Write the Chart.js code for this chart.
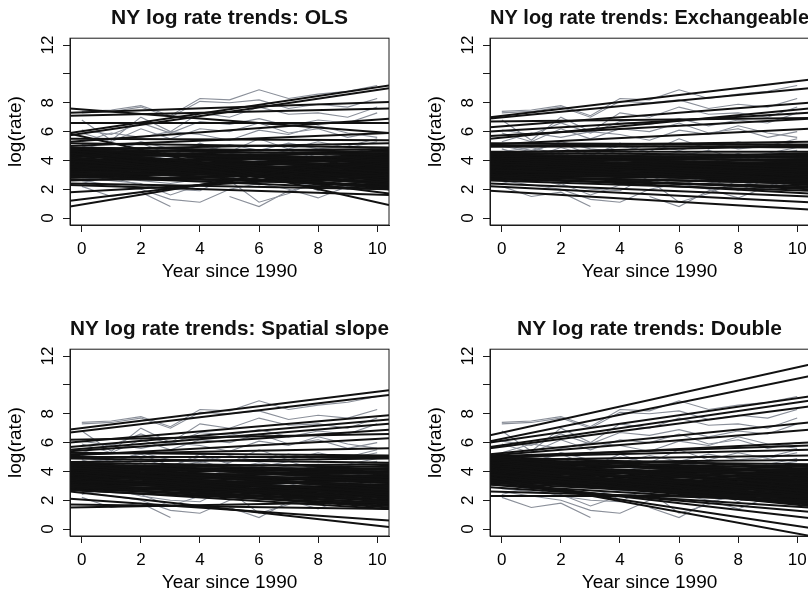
<!DOCTYPE html>
<html lang="en">
<head>
<meta charset="UTF-8">
<title>NY log rate trends</title>
<script src="https://cdn.jsdelivr.net/npm/chart.js"></script>
<style>
  body { margin: 0; width: 808px; height: 599px; overflow: hidden; background: #fff; position: relative; }
  .panel { position: absolute; width: 420px; height: 311px; }
</style>
</head>
<body>
<div class="panel" style="left:0;top:0"><canvas id="ols"></canvas></div>
<div class="panel" style="left:420px;top:0"><canvas id="exch"></canvas></div>
<div class="panel" style="left:0;top:311px"><canvas id="spatial"></canvas></div>
<div class="panel" style="left:420px;top:311px"><canvas id="double"></canvas></div>

<script>
// axes
const years = [0, 1, 2, 3, 4, 5, 6, 7, 8, 9, 10];
const xEdges = [-0.4, 10.4];
const xTicks = [0, 2, 4, 6, 8, 10];
const xTickLabels = ['0', '2', '4', '6', '8', '10'];
const yTicks = [0, 2, 4, 6, 8, 10, 12];
const yTickLabels = ['0', '2', '4', '6', '8', '', '12'];

// observed county log rates (grey), one row per county, null = missing year
const greyRates = [
  [7.4, 7.5, 7.8, 7.1, 8.3, 8.2, 8.9, 8.3, 8.6, 8.8, 9.2],
  [7.3, 7.4, 7.7, 7.0, 8.1, 8.0, 8.2, 7.6, 7.9, 7.7, 8.3],
  [6.8, 5.4, 7.0, 6.0, 7.3, 7.0, 7.7, 7.2, 7.3, 7.0, 7.7],
  [6.1, 5.8, 6.6, 5.9, 6.7, 6.5, 6.9, 6.4, 6.8, 6.6, 7.3],
  [5.9, 5.3, 6.2, 5.5, 6.2, 6.0, 6.6, 5.9, 6.2, 5.6, 6.0],
  [5.3, 5.9, 5.6, 6.0, 5.8, 5.4, 6.1, 5.8, 6.4, 5.9, 5.6],
  [5.1, 4.7, 5.2, 4.4, 5.0, 4.6, 5.5, 4.8, 5.3, 4.9, 5.3],
  [4.8, 4.2, 4.9, 4.3, 5.2, 4.5, 4.3, 4.7, 4.1, 4.5, 4.9],
  [4.3, 3.9, 4.6, 3.7, 4.4, 4.0, 4.2, 3.8, 4.5, 3.9, 4.1],
  [3.6, 4.1, 3.3, 3.9, 3.5, 3.2, 3.8, 3.4, 3.1, 3.6, 3.3],
  [3.9, 3.5, 3.7, 3.2, 3.6, 4.1, 3.3, 3.0, 3.6, 3.2, 3.8],
  [3.2, 3.0, 3.6, 2.9, 3.1, 3.4, 2.8, 3.3, 2.9, 2.6, 3.0],
  [4.6, 4.9, 4.4, 4.1, 4.7, 4.2, 4.6, 4.3, 4.0, 4.4, 4.7],
  [5.0, 4.6, 5.3, 4.8, 4.6, 5.1, 4.7, 5.2, 4.8, 5.0, 5.5],
  [4.0, 4.4, 3.8, 4.2, 3.9, 3.6, 4.0, 3.7, 3.5, 3.9, 3.6],
  [3.4, 3.2, 3.0, 3.5, 2.8, 3.1, 3.4, 2.7, 3.2, 3.0, 2.8],
  [2.2, 1.5, 1.8, 0.8, null, null, null, null, null, null, null],
  [2.6, 2.3, 2.0, 1.3, 1.1, 2.0, 2.4, 2.0, 1.4, 2.2, 3.0],
  [null, null, null, null, null, 1.5, 0.8, 1.9, 2.3, 2.0, 2.6],
  [2.8, 2.6, 2.4, 1.6, 2.3, 2.6, 1.1, 1.7, 2.6, 2.1, 2.9],
  [3.1, 2.8, 2.3, 2.0, 1.9, 2.9, 2.3, 2.8, 1.9, 2.7, 3.3],
  [2.4, 2.9, 2.6, 2.4, 2.7, 2.4, 2.9, 2.5, 2.2, 2.8, 3.6]
];

// fitted trend lines (black): value at left plot edge and at right plot edge
const olsLeft = [7.6, 7.3, 7.1, 6.6, 5.9, 5.75, 5.5, 5.85, 5.3, 5.0, 5.2, 0.8, 1.2, 1.8, 2.3, 2.4, 4.5, 4.2,
  4.9, 4.85, 4.8, 4.7, 4.65, 4.6, 4.5, 4.45, 4.4, 4.3, 4.25, 4.2, 4.1, 4.05, 4.0, 3.95, 3.9, 3.85,
  3.8, 3.75, 3.7, 3.65, 3.6, 3.55, 3.5, 3.45, 3.4, 3.35, 3.3, 3.2, 3.1, 3.0, 2.9, 2.8, 2.7, 2.6,
  4.75, 4.35, 3.9, 3.25, 3.0, 4.15, 3.7, 2.95,
  4.55, 4.1, 3.8, 3.5, 3.25, 3.05, 4.7, 4.35, 3.95, 3.6, 3.15, 2.85, 4.45, 4.0, 3.7, 3.4];
const olsRight = [5.9, 8.05, 7.6, 6.6, 9.2, 9.0, 5.4, 0.9, 6.9, 5.9, 4.9, 4.5, 3.9, 3.0, 1.6, 2.0, 1.7, 2.0,
  4.6, 3.2, 4.4, 2.6, 3.9, 4.8, 3.0, 4.2, 2.3, 3.6, 4.5, 2.8, 3.3, 4.1, 2.1, 3.7, 2.9, 4.3,
  3.4, 2.5, 3.8, 3.0, 4.0, 2.4, 3.5, 2.7, 3.1, 4.2, 2.2, 3.6, 2.9, 3.3, 2.0, 3.9, 2.6, 3.2,
  5.2, 3.5, 2.4, 4.4, 3.7, 2.9, 4.7, 2.3,
  3.8, 2.6, 4.4, 2.9, 3.5, 2.2, 4.0, 3.1, 3.6, 2.4, 2.8, 3.4, 4.6, 2.7, 3.2, 2.1];

const exchLeft = [7.0, 6.9, 6.3, 6.0, 5.7, 5.5, 5.1, 5.0, 5.05, 5.2, 2.6, 2.4, 2.2, 1.9, 2.9, 3.0, 6.7, 4.95,
  4.5, 4.45, 4.4, 4.35, 4.3, 4.25, 4.2, 4.15, 4.1, 4.05, 4.0, 3.95, 3.9, 3.85, 3.8, 3.75, 3.7, 3.65,
  3.6, 3.55, 3.5, 3.45, 3.4, 3.35, 3.3, 3.25, 3.2, 3.15, 3.1, 3.05, 3.0, 2.95, 2.9, 2.85, 2.8, 2.7,
  4.6, 4.55, 3.6, 3.3, 3.9, 2.75, 4.1, 3.45,
  4.4, 4.2, 4.0, 3.8, 3.6, 3.4, 3.2, 3.0, 4.3, 4.1, 3.9, 3.7, 3.5, 3.3, 3.1, 2.9];
const exchRight = [9.6, 9.0, 8.0, 7.3, 6.9, 7.6, 6.2, 5.3, 4.9, 5.1, 1.9, 1.5, 1.1, 0.6, 1.7, 2.0, 6.95, 5.0,
  4.4, 3.9, 4.2, 3.5, 4.0, 4.3, 3.3, 3.8, 3.0, 3.6, 4.1, 2.9, 3.4, 3.7, 2.7, 3.5, 3.2, 3.9,
  3.0, 2.6, 3.4, 3.1, 3.6, 2.5, 3.3, 2.8, 3.0, 3.5, 2.6, 3.2, 2.9, 2.7, 2.4, 3.1, 2.5, 2.2,
  4.6, 5.0, 2.3, 3.9, 4.5, 2.1, 3.0, 2.8,
  3.6, 4.0, 2.8, 3.3, 3.7, 2.6, 3.0, 2.7, 4.2, 3.1, 3.5, 2.9, 3.8, 2.5, 3.2, 2.4];

const spatialLeft = [6.9, 6.7, 6.0, 5.7, 5.5, 5.4, 5.1, 5.2, 5.0, 4.9, 2.6, 2.1, 1.7, 1.5, 3.0, 2.9, 5.3, 6.2,
  4.6, 4.55, 4.5, 4.45, 4.4, 4.3, 4.25, 4.2, 4.15, 4.1, 4.05, 4.0, 3.95, 3.9, 3.85, 3.8, 3.75, 3.7,
  3.65, 3.6, 3.55, 3.5, 3.45, 3.4, 3.35, 3.3, 3.25, 3.2, 3.1, 3.05, 3.0, 2.95, 2.9, 2.85, 2.8, 2.7,
  4.65, 4.35, 3.9, 3.5, 3.15, 4.0, 3.7, 2.75,
  4.5, 4.3, 4.1, 3.9, 3.7, 3.5, 3.3, 3.1, 4.4, 4.2, 4.0, 3.8, 3.6, 3.4, 3.2, 3.0];
const spatialRight = [9.64, 9.3, 7.9, 7.6, 7.3, 6.9, 6.3, 5.6, 5.0, 4.6, 0.15, 0.6, 1.4, 1.9, 1.5, 1.8, 5.1, 6.6,
  4.3, 3.4, 4.1, 2.7, 3.6, 4.5, 2.9, 3.8, 2.2, 3.3, 4.2, 2.5, 3.0, 3.7, 1.9, 3.4, 2.6, 3.9,
  3.0, 2.1, 3.5, 2.7, 3.6, 2.0, 3.1, 2.4, 2.8, 3.3, 1.8, 2.9, 2.5, 2.2, 1.6, 2.7, 2.0, 1.7,
  4.9, 3.2, 2.3, 4.0, 2.6, 1.9, 4.4, 1.4,
  3.5, 3.9, 2.4, 3.0, 3.4, 2.2, 2.7, 2.0, 4.0, 2.8, 3.2, 2.5, 3.6, 1.9, 2.9, 2.3];

const doubleLeft = [6.5, 6.1, 6.0, 5.7, 5.6, 5.2, 5.1, 4.9, 5.0, 4.8, 3.6, 3.4, 3.3, 3.1, 2.9, 2.6, 2.3, 3.8,
  5.0, 4.95, 4.9, 4.85, 4.8, 4.75, 4.7, 4.65, 4.6, 4.55, 4.5, 4.45, 4.4, 4.35, 4.3, 4.25, 4.2, 4.15,
  4.1, 4.05, 4.0, 3.95, 3.9, 3.85, 3.8, 3.75, 3.7, 3.65, 3.6, 3.55, 3.5, 3.45, 3.4, 3.3, 3.2, 3.1,
  5.05, 4.6, 4.4, 4.2, 3.9, 3.7, 4.0, 3.5,
  4.9, 4.7, 4.5, 4.3, 4.1, 3.9, 3.7, 3.5, 4.8, 4.6, 4.4, 4.2, 4.0, 3.8, 3.6, 3.4];
const doubleRight = [11.4, 10.6, 9.2, 8.9, 8.5, 7.4, 6.9, 6.0, 5.5, 5.1, -0.46, 0.1, 0.76, 1.2, 1.5, 2.0, 2.3, 1.6,
  4.3, 3.5, 4.0, 2.8, 3.7, 4.5, 3.1, 3.9, 2.4, 3.4, 4.1, 2.6, 3.2, 3.8, 2.1, 3.5, 2.9, 3.6,
  3.0, 2.3, 3.3, 2.7, 3.4, 2.2, 3.0, 2.5, 2.8, 3.1, 2.0, 2.6, 2.4, 2.2, 1.9, 2.3, 2.1, 1.8,
  5.8, 4.8, 2.0, 4.4, 1.8, 4.2, 2.5, 1.7,
  3.6, 4.0, 2.5, 3.2, 3.8, 2.3, 2.9, 2.1, 4.2, 3.0, 3.4, 2.7, 3.9, 2.2, 3.1, 2.4];

Chart.defaults.font.family = '"Liberation Sans", Arial, Helvetica, sans-serif';
Chart.defaults.color = '#000';

// R style box round the plot region
const boxPlugin = {
  id: 'box',
  afterDraw(chart) {
    const { ctx, chartArea: a } = chart;
    ctx.save();
    ctx.strokeStyle = '#1a1a1a';
    ctx.lineWidth = 1;
    ctx.strokeRect(a.left, a.top, a.right - a.left, a.bottom - a.top);
    ctx.restore();
  }
};

function makePanel(id, title, leftVals, rightVals) {
  const datasets = [];
  leftVals.forEach((l, i) => {
    datasets.push({
      data: [{ x: xEdges[0], y: l }, { x: xEdges[1], y: rightVals[i] }],
      borderColor: '#111', borderWidth: 2, showLine: true
    });
  });
  greyRates.forEach(g => {
    datasets.push({
      data: years.map((x, i) => ({ x: x, y: g[i] })).filter(p => p.y !== null),
      borderColor: '#8a8f99', borderWidth: 1.1, showLine: true
    });
  });

  new Chart(document.getElementById(id), {
    type: 'scatter',
    data: { datasets },
    options: {
      responsive: true, maintainAspectRatio: false, animation: false,
      elements: { point: { radius: 0, hoverRadius: 0 }, line: { tension: 0 } },
      layout: { padding: { left: 0, right: 31, top: 0, bottom: 0 } },
      plugins: {
        legend: { display: false },
        tooltip: { enabled: false },
        title: {
          display: true, text: title, fullSize: false, color: '#111',
          font: { size: 21, weight: 'bold' }, padding: { top: 6, bottom: 7 }
        }
      },
      scales: {
        x: {
          type: 'linear', min: xEdges[0], max: xEdges[1],
          afterBuildTicks: s => { s.ticks = xTicks.map(v => ({ value: v })); },
          afterFit: s => { s.height = 86; },
          grid: { drawOnChartArea: false, tickLength: 7, color: '#1a1a1a' },
          border: { color: '#1a1a1a' },
          ticks: { font: { size: 17 }, padding: 7, maxRotation: 0, callback: (v, i) => xTickLabels[i] },
          title: { display: true, text: 'Year since 1990', font: { size: 19 }, padding: { top: 0, bottom: 28 } }
        },
        y: {
          type: 'linear', min: -0.48, max: 12.48,
          afterBuildTicks: s => { s.ticks = yTicks.map(v => ({ value: v })); },
          afterFit: s => { s.width = 70; },
          grid: { drawOnChartArea: false, tickLength: 7, color: '#1a1a1a' },
          border: { color: '#1a1a1a' },
          ticks: { font: { size: 17 }, padding: 5, minRotation: 90, maxRotation: 90, crossAlign: 'center', callback: (v, i) => yTickLabels[i] },
          title: { display: true, text: 'log(rate)', font: { size: 19 }, padding: { top: 4, bottom: 0 } }
        }
      }
    },
    plugins: [boxPlugin]
  });
}

makePanel('ols', 'NY log rate trends: OLS', olsLeft, olsRight);
makePanel('exch', 'NY log rate trends: Exchangeable', exchLeft, exchRight);
makePanel('spatial', 'NY log rate trends: Spatial slope', spatialLeft, spatialRight);
makePanel('double', 'NY log rate trends: Double', doubleLeft, doubleRight);
</script>
</body>
</html>
